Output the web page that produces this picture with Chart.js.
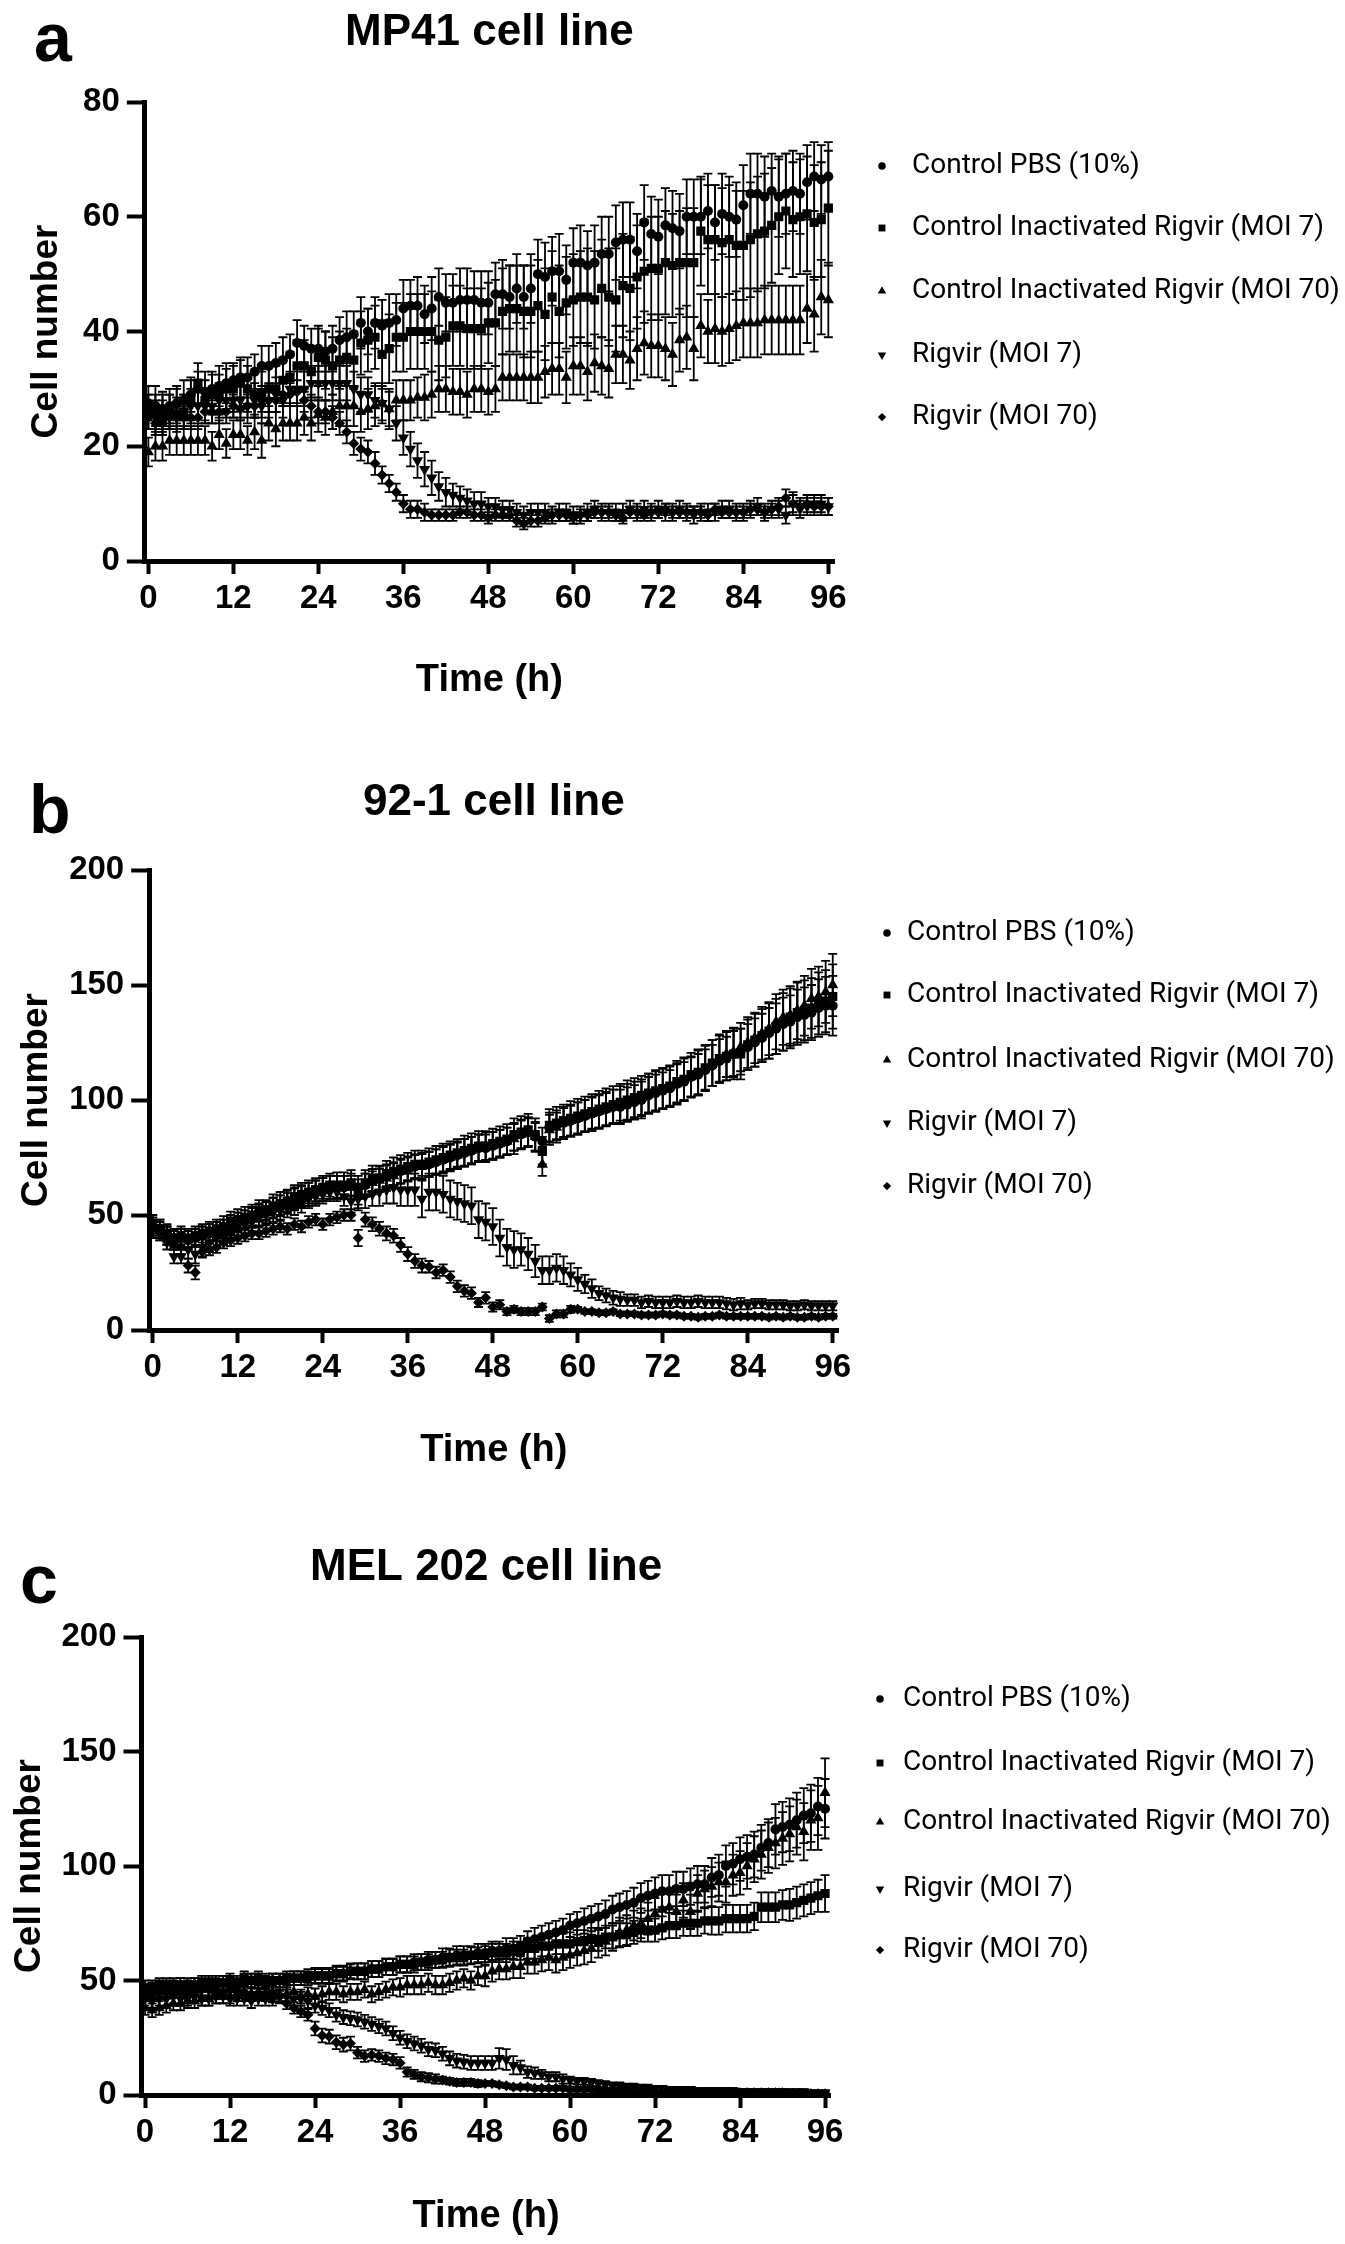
<!DOCTYPE html>
<html>
<head>
<meta charset="utf-8">
<script src="https://cdn.jsdelivr.net/npm/chart.js@4.4.1/dist/chart.umd.min.js"></script>
<style>
  body { margin: 0; background: #fff; width: 1345px; height: 2244px; position: relative; overflow: hidden; }
  canvas { position: absolute; left: 0; }
</style>
</head>
<body>
<canvas id="mp41" style="top:0px"></canvas>
<canvas id="l921" style="top:768px"></canvas>
<canvas id="mel202" style="top:1534px"></canvas>
<script>
const HOURS = [0, 1, 2, 3, 4, 5, 6, 7, 8, 9, 10, 11, 12, 13, 14, 15, 16, 17, 18, 19, 20, 21, 22, 23,
    24, 25, 26, 27, 28, 29, 30, 31, 32, 33, 34, 35, 36, 37, 38, 39, 40, 41, 42, 43, 44, 45, 46, 47,
    48, 49, 50, 51, 52, 53, 54, 55, 56, 57, 58, 59, 60, 61, 62, 63, 64, 65, 66, 67, 68, 69, 70, 71,
    72, 73, 74, 75, 76, 77, 78, 79, 80, 81, 82, 83, 84, 85, 86, 87, 88, 89, 90, 91, 92, 93, 94, 95, 96];
const TIME_TICKS = [0, 12, 24, 36, 48, 60, 72, 84, 96];
const SERIES_LABELS = ["Control PBS (10%)", "Control Inactivated Rigvir (MOI 7)", "Control Inactivated Rigvir (MOI 70)", "Rigvir (MOI 7)", "Rigvir (MOI 70)"];

// ---- MP41 cell line (mean, SD) ----
const mp41_pbs = [27.5, 27, 26.5, 27, 27.5, 28, 29, 30, 29.5, 30, 30.5, 31,
    31.5, 32, 32, 33, 34, 34, 34.5, 35, 36, 38, 37.5, 37,
    37, 36.5, 37, 38.5, 39, 39.5, 41.5, 40, 41.5, 41, 41.5, 42,
    44, 44.5, 44.5, 43, 44, 46, 45, 45, 45.5, 45.5, 45.5, 45,
    45, 46.5, 46.5, 46, 47.5, 46, 47.5, 50, 49.5, 50.5, 50.5, 49,
    52, 52, 51.5, 52, 53.5, 53.5, 55.5, 56, 56, 54, 59, 57,
    56.5, 58.5, 58, 57.5, 60, 60, 60, 61, 59, 60.5, 60, 59.5,
    62, 64, 64, 63.5, 64.5, 63.5, 64, 64.5, 64, 66, 67, 66.5, 67];
const mp41_pbs_sd = [3, 3.5, 3, 3, 3, 3.5, 3, 3, 3.5, 3, 3.5, 3.5,
    3, 3.5, 3.5, 3, 3.5, 3.5, 3.5, 4, 3.5, 4, 3.5, 3.5,
    4, 3.5, 4, 4, 4.5, 4, 4.5, 4, 4.5, 4.5, 5, 4.5,
    5, 4.5, 5, 5, 5.5, 5, 5, 5, 5.5, 5.5, 5, 5.5,
    5.5, 5.5, 6, 5.5, 6, 5.5, 6, 6, 6, 6, 6.5, 6,
    6, 6.5, 6, 6.5, 6.5, 6.5, 6.5, 6.5, 6.5, 6.5, 6.5, 6.5,
    6.5, 6.5, 6.5, 6.5, 6.5, 6.5, 6.5, 6.5, 6.5, 7, 7, 6.5,
    7, 7, 7, 7, 6.5, 7, 7, 7, 7, 6.5, 6, 6, 6];
const mp41_inact7 = [26, 26, 25, 26, 25.5, 26, 28, 31, 28, 29, 29, 30,
    30, 31, 30, 29, 29, 30, 30, 31.5, 32, 34, 34, 33,
    35.5, 35, 34, 35, 35.5, 35, 38, 38.5, 39, 36, 37, 39,
    39, 40, 40, 40, 40, 38.5, 39, 41, 41, 40.5, 40.5, 40.5,
    41.5, 41.5, 43.5, 44, 44, 43.5, 43.5, 44.5, 43, 46, 43.5, 45,
    45.5, 46, 46, 45.5, 47.5, 46, 45.5, 48, 47.5, 49.5, 50.5, 51,
    51, 52, 51.5, 52, 52, 52, 57.5, 56, 56, 55.5, 56, 55,
    55, 56, 57, 57.5, 58.5, 60, 61, 59.5, 60, 60.5, 59, 59.5, 61.5];
const mp41_inact7_sd = [3, 3, 3, 3, 3, 3, 3.5, 3.5, 3.5, 3.5, 3.5, 3.5,
    4, 4, 4, 4, 4, 4, 4, 4, 4.5, 4.5, 4.5, 4.5,
    5, 5, 5, 5, 5, 5, 5.5, 5.5, 5.5, 6, 6, 6,
    6, 6.5, 6.5, 6.5, 7, 7, 7, 7, 7, 7, 7, 7,
    7, 7.5, 7.5, 7.5, 7.5, 8, 8, 8, 8, 8, 8, 8,
    8, 8, 8.5, 8.5, 8.5, 8.5, 9, 9, 9, 9, 9, 9,
    9, 9, 9, 9, 9.5, 9.5, 9.5, 9.5, 9.5, 9.5, 9.5, 9.5,
    9.5, 10, 10, 10, 10, 10, 10, 10, 10, 10, 10, 10, 10];
const mp41_inact70 = [19, 20, 20, 21, 21, 21, 21, 21, 21, 20, 22, 20.5,
    22, 22, 21, 22.5, 21, 24, 23, 24, 24, 24, 25, 24,
    25.5, 25, 26, 27, 27, 27, 26, 26.5, 27, 27.5, 26.5, 28,
    28, 28, 28.5, 28.5, 29, 30, 30, 29.5, 29.5, 29, 30, 30,
    29.5, 30, 32, 32, 32, 32, 32, 32, 33, 33.5, 33.5, 32,
    34, 34, 33, 34.5, 34, 33.5, 36, 36, 35, 37, 38, 37.5,
    37.5, 37, 36, 38.5, 39, 37, 41, 40, 40.5, 40, 40.5, 41,
    41.5, 41.5, 41.5, 42, 42, 42, 42, 42, 42, 44, 43, 46, 45.5];
const mp41_inact70_sd = [2.5, 2.5, 2.5, 2.5, 2.5, 2.5, 2.5, 2.5, 2.5, 2.5, 2.5, 2.5,
    2.5, 2.5, 2.5, 3, 3, 3, 3, 3, 3, 3, 3, 3,
    3, 3, 3, 3.5, 3.5, 3.5, 3.5, 3.5, 3.5, 3.5, 3.5, 3.5,
    3.5, 3.5, 3.5, 4, 4, 4, 4, 4, 4, 4, 4, 4,
    4, 4, 4, 4, 4, 4, 4.5, 4.5, 4.5, 4.5, 4.5, 4.5,
    5, 5, 5, 5, 5, 5, 5, 5, 5, 5.5, 5.5, 5.5,
    5.5, 5.5, 5.5, 5.5, 5.5, 5.5, 5.5, 5.5, 6, 6, 6, 6,
    6, 6, 6, 6, 6, 6, 6, 6, 6, 6, 6.5, 6.5, 6.5];
const mp41_rig7 = [26, 25, 26, 26, 27, 26, 27, 27, 27, 27, 28, 28,
    28, 28, 27, 28, 27, 28, 29, 28, 30, 30, 30, 31,
    31, 31, 31, 31, 31, 30, 29, 29, 28, 27.5, 26.5, 24,
    21.5, 19.5, 17.5, 16, 14.5, 13, 12, 11.5, 11, 10.5, 10, 10,
    9.5, 9.5, 9, 9, 8.5, 8, 8.5, 8.5, 8.5, 8, 8.5, 8.5,
    8, 8, 8.5, 9, 8.5, 8.5, 8.5, 8.5, 9, 8.5, 9, 8.5,
    9, 8.5, 8.5, 9, 8.5, 8, 8.5, 8.5, 8.5, 9, 9, 8.5,
    8.5, 9, 9.5, 8.5, 9, 9, 8, 10, 9, 9.5, 10, 10, 9.5];
const mp41_rig7_sd = [3, 3, 3, 3, 3, 3, 3, 3, 3, 3, 3, 3,
    3, 3, 3, 3, 3, 3, 3, 3, 3, 3, 3, 3,
    3, 3, 3, 3, 3, 3, 3, 3, 3, 3, 3, 3,
    3, 3, 3, 3, 3, 2.5, 2.5, 2, 2, 2, 2, 2,
    1.5, 1.5, 1.5, 1.5, 1.5, 1.5, 1.5, 1.5, 1.5, 1.5, 1.5, 1.5,
    1.5, 1.5, 1.5, 1.5, 1.5, 1.5, 1.5, 1.5, 1.5, 1.5, 1.5, 1.5,
    1.5, 1.5, 1.5, 1.5, 1.5, 1.5, 1.5, 1.5, 1.5, 1.5, 1.5, 1.5,
    1.5, 1.5, 1.5, 1.5, 1.5, 1.5, 1.5, 2, 1.5, 1.5, 1.5, 1.5, 1.5];
const mp41_rig70 = [25, 24, 24, 25, 25, 25, 25, 25, 26, 26, 26, 26,
    27, 26.5, 27, 27, 28, 28, 28, 29, 29, 29.5, 28, 27,
    26, 26, 25, 24, 22.5, 20.5, 19.5, 19, 17, 15, 13.5, 12,
    10, 9, 9, 8.5, 8, 8, 8, 8, 8.5, 8.5, 8, 8,
    7.5, 8, 8, 8, 7, 6.5, 7, 7, 7.5, 8, 8, 8,
    7.5, 8, 8, 8.5, 8.5, 8.5, 8, 7.5, 8.5, 8.5, 8, 8.5,
    8.5, 9, 8.5, 8.5, 8.5, 8.5, 8.5, 8, 9, 8.5, 8.5, 8.5,
    8.5, 9, 9, 8.5, 9, 9.5, 11, 10, 9.5, 10, 9.5, 9.5, 9.5];
const mp41_rig70_sd = [2, 2, 2, 2, 2, 2, 2, 2, 2, 2, 2, 2,
    2, 2, 2, 2, 2, 2, 2, 2, 2, 2, 2, 2,
    2, 2, 2, 2, 2, 2, 2, 2, 2, 1.5, 1.5, 1.5,
    1.5, 1.5, 1.5, 1.5, 1, 1, 1, 1, 1, 1, 1, 1,
    1, 1, 1, 1, 1, 1, 1, 1, 1, 1, 1, 1,
    1, 1, 1, 1, 1, 1, 1, 1, 1, 1, 1, 1,
    1, 1, 1, 1, 1, 1, 1, 1, 1, 1, 1, 1,
    1, 1, 1, 1, 1, 1.5, 1.5, 1.5, 1.5, 1.5, 1.5, 1.5, 1.5];

// ---- 92-1 cell line ----
const l921_pbs = [45, 44, 42, 40, 40, 39, 40, 41, 42, 43, 44, 46,
    47, 48, 49, 51, 52, 53, 54, 56, 57, 58, 59, 60,
    61, 62, 62, 62, 63, 62, 63, 65, 66, 67, 68, 69,
    70, 71, 72, 72, 73, 74, 75, 76, 77, 78, 79, 79,
    80, 81, 82, 84, 85, 86, 84, 82, 88, 89, 90, 91,
    92, 93, 94, 95, 96, 97, 97, 98, 99, 100, 102, 103,
    104, 105, 107, 108, 110, 111, 113, 115, 117, 118, 120, 121,
    123, 125, 127, 129, 131, 133, 134, 136, 137, 138, 140, 141, 141];
const l921_pbs_sd = [4, 4, 4, 3.5, 4, 4, 4, 4, 4, 4, 4, 4,
    4, 4, 4, 4, 4, 4.5, 4.5, 4.5, 4.5, 4.5, 5, 5,
    5, 5, 5, 5, 5, 5, 5, 5, 5, 5, 5, 5,
    5, 5, 5, 5.5, 5.5, 5.5, 5.5, 5.5, 6, 6, 6, 6,
    6, 6, 6, 6, 6, 6, 6, 6, 6.5, 6.5, 6.5, 6.5,
    7, 7, 7, 7, 7, 7.5, 7.5, 7.5, 7.5, 8, 8, 8,
    8, 8, 8.5, 8.5, 8.5, 9, 9, 9, 9.5, 9.5, 10, 10,
    10, 10.5, 10.5, 11, 11, 11.5, 11.5, 12, 12, 12, 12.5, 12.5, 13];
const l921_inact7 = [46, 44, 41, 40, 41, 40, 41, 42, 43, 44, 45, 47,
    48, 49, 50, 52, 52, 54, 55, 56, 58, 59, 60, 61,
    62, 63, 63, 63, 64, 60, 64, 66, 66, 68, 69, 70,
    71, 72, 72, 73, 74, 75, 76, 77, 78, 79, 80, 80,
    81, 82, 83, 85, 86, 87, 85, 78, 89, 90, 91, 92,
    93, 94, 95, 96, 97, 98, 99, 100, 101, 102, 103, 104,
    105, 106, 108, 109, 111, 112, 114, 116, 118, 119, 120, 120,
    124, 126, 128, 130, 132, 134, 136, 138, 139, 140, 142, 143, 145];
const l921_inact7_sd = [4, 4, 4, 4, 4, 4, 4, 4, 4, 4, 4.5, 4.5,
    4.5, 4.5, 4.5, 4.5, 4.5, 5, 5, 5, 5, 5, 5, 5,
    5, 5, 5.5, 5.5, 5.5, 5.5, 5.5, 5.5, 5.5, 5.5, 6, 6,
    6, 6, 6, 6, 6, 6, 6, 6, 6.5, 6.5, 6.5, 6.5,
    6.5, 6.5, 6.5, 7, 7, 7, 7, 6, 7, 7, 7, 7.5,
    7.5, 7.5, 7.5, 8, 8, 8, 8, 8.5, 8.5, 8.5, 8.5, 9,
    9, 9, 9, 9.5, 9.5, 10, 10, 10, 10.5, 10.5, 11, 11,
    11, 11.5, 11.5, 12, 12, 12.5, 12.5, 13, 13, 13, 13.5, 13.5, 14];
const l921_inact70 = [44, 43, 41, 39, 40, 39, 40, 41, 42, 43, 44, 45,
    47, 48, 49, 50, 51, 53, 54, 55, 57, 58, 59, 60,
    61, 62, 62, 62, 62, 58, 63, 64, 65, 66, 67, 69,
    70, 71, 71, 72, 73, 74, 75, 76, 77, 78, 79, 80,
    80, 81, 82, 83, 85, 86, 84, 72, 87, 88, 90, 91,
    92, 93, 94, 95, 96, 97, 98, 99, 100, 101, 103, 104,
    105, 106, 107, 109, 110, 112, 114, 116, 118, 120, 121, 123,
    125, 127, 129, 131, 134, 136, 137, 139, 141, 144, 145, 147, 150];
const l921_inact70_sd = [4, 4, 4, 4, 4, 4, 4, 4, 4, 4, 4, 4,
    4, 4, 4.5, 4.5, 4.5, 4.5, 4.5, 4.5, 5, 5, 5, 5,
    5, 5, 5, 5, 5, 5, 5, 5, 5, 5.5, 5.5, 5.5,
    5.5, 5.5, 5.5, 5.5, 5.5, 6, 6, 6, 6, 6, 6, 6,
    6, 6, 6, 6.5, 6.5, 6.5, 6.5, 5, 6.5, 6.5, 7, 7,
    7, 7, 7.5, 7.5, 7.5, 7.5, 8, 8, 8, 8, 8.5, 8.5,
    8.5, 8.5, 9, 9, 9, 9.5, 9.5, 10, 10, 10, 10.5, 10.5,
    11, 11, 11.5, 11.5, 12, 12, 12.5, 12.5, 13, 13, 13, 13.5, 13.5];
const l921_rig7 = [44, 42, 38, 32, 32, 35, 33, 36, 38, 40, 41, 43,
    45, 46, 47, 49, 50, 51, 52, 53, 54, 55, 57, 58,
    59, 60, 60, 58, 56, 57, 58, 59, 60, 61, 62, 61,
    61, 61, 57, 60, 60, 59, 57, 56, 55, 54, 48, 47,
    45, 40, 36, 35, 35, 33, 30, 26, 26, 27, 26, 24,
    22, 20, 18, 16, 15, 14, 13.5, 13, 13, 12, 12.5, 12,
    12, 12, 12.5, 12, 12, 12.5, 12, 12, 12, 11.5, 11, 11.5,
    11, 11.5, 11.5, 11, 11, 11, 10.5, 10.5, 11, 10.5, 10.5, 10.5, 10.5];
const l921_rig7_sd = [3, 3, 3, 3, 3, 4, 4, 4, 4, 4, 4, 4,
    4, 4, 4, 4, 4, 4, 4, 4, 4, 4, 4, 4,
    4, 4, 4, 4, 5, 5, 5, 5, 6, 6, 7, 7,
    7, 7, 8, 8, 8, 8, 8, 8, 8, 8, 8, 8,
    8, 8, 8, 8, 7, 7, 7, 6, 6, 6, 6, 5,
    5, 4, 4, 3, 3, 3, 3, 2.5, 2.5, 2.5, 2.5, 2.5,
    2.5, 2.5, 2.5, 2.5, 2.5, 2.5, 2.5, 2.5, 2.5, 2.5, 2.5, 2.5,
    2, 2, 2, 2, 2, 2, 2, 2, 2, 2, 2, 2, 2];
const l921_rig70 = [45, 44, 42, 38, 36, 28, 25, 34, 35, 36, 38, 39,
    40, 41, 42, 42, 43, 44, 45, 44, 46, 45, 47, 48,
    46, 48, 49, 50, 50, 40, 48, 46, 44, 42, 41, 37,
    33, 30, 28, 27.5, 25, 26, 23, 19, 17, 16, 12, 14,
    10, 11, 8, 9, 8, 8, 8, 10, 5, 7, 7, 9,
    9, 8, 8, 7.5, 7.5, 8, 7, 7, 7, 6.5, 6.5, 6.5,
    7, 6.5, 6.5, 6, 6, 5.5, 6, 6, 6.5, 6, 6, 6,
    6, 6, 6, 5.5, 6, 5.5, 6, 5.5, 5.5, 6, 5.5, 6, 6];
const l921_rig70_sd = [3, 3, 3, 3, 3, 3, 3, 2.5, 2.5, 2.5, 2.5, 2.5,
    2.5, 2.5, 2.5, 2.5, 2.5, 2.5, 2.5, 2.5, 2.5, 2.5, 2.5, 2.5,
    2.5, 2.5, 2.5, 2.5, 2.5, 3.5, 3, 3, 3, 3, 3, 3,
    3, 3, 3, 2.5, 2.5, 2.5, 2.5, 2.5, 2.5, 2.5, 2, 2.5,
    2, 2, 1.5, 1.5, 1.5, 1.5, 1.5, 1.5, 1.5, 1.5, 1.5, 1.5,
    1, 1, 1, 1, 1, 1, 1, 1, 1, 1, 1, 1,
    1, 1, 1, 1, 1, 1, 1, 1, 1, 1, 1, 1,
    1, 1, 1, 1, 1, 1, 1, 1, 1, 1, 1, 1, 1];

// ---- MEL 202 cell line ----
const mel202_pbs = [44, 46, 47, 47, 47, 48, 47, 48, 48, 48, 48, 49,
    49, 48, 50, 50, 50, 49, 50, 50, 50, 51, 51, 51,
    52, 52, 52, 53, 53, 54, 54, 54, 55, 55, 56, 56,
    57, 57, 58, 58, 59, 59, 60, 60, 61, 61, 61, 62,
    62, 63, 63, 64, 64, 65, 67, 68, 69, 70, 71, 72,
    74, 75, 76, 77, 78, 79, 81, 82, 83, 84, 86, 87,
    88, 89, 89, 90, 90, 91, 92, 92, 95, 96, 100, 101,
    103, 104, 105, 108, 110, 116, 117, 118, 120, 122, 123, 126, 125];
const mel202_pbs_sd = [3, 3, 3, 3, 3, 3, 3, 3, 3, 3, 3, 3,
    3, 3, 3, 3, 3, 3, 3, 3, 3, 3, 3, 3,
    3, 3, 3, 3, 3, 3, 3.5, 3.5, 3.5, 3.5, 3.5, 3.5,
    3.5, 3.5, 3.5, 3.5, 3.5, 3.5, 4, 4, 4, 4, 4, 4,
    4, 4, 4, 4.5, 4.5, 4.5, 4.5, 5, 5, 5, 5, 5,
    5, 5, 5.5, 5.5, 5.5, 6, 6, 6, 6, 6.5, 6.5, 6.5,
    7, 7, 7, 7.5, 7.5, 8, 8, 8, 8.5, 9, 9, 9,
    9.5, 9.5, 10, 10, 10.5, 11, 11, 11.5, 12, 12, 12.5, 12.5, 13];
const mel202_inact7 = [47, 47, 48, 48, 48, 48, 48, 48, 49, 49, 49, 49,
    50, 49, 51, 50, 51, 50, 50, 50, 51, 51, 51, 52,
    52, 52, 52, 53, 53, 54, 54, 54, 55, 55, 56, 56,
    57, 57, 57, 58, 58, 59, 59, 60, 60, 60, 61, 61,
    61, 62, 62, 62, 63, 63, 64, 64, 65, 65, 66, 66,
    66, 67, 67, 68, 68, 69, 69, 70, 70, 71, 72, 72,
    72, 73, 74, 74, 75, 75, 75, 76, 76, 76, 77, 77,
    77, 77, 78, 82, 82, 82, 83, 83, 84, 85, 86, 87, 88];
const mel202_inact7_sd = [3, 3, 3, 3, 3, 3, 3, 3, 3, 3, 3, 3,
    3, 3, 3, 3, 3, 3, 3, 3, 3, 3, 3, 3,
    3.5, 3.5, 3.5, 3.5, 3.5, 3.5, 3.5, 3.5, 3.5, 3.5, 3.5, 3.5,
    3.5, 3.5, 3.5, 3.5, 3.5, 3.5, 3.5, 3.5, 3.5, 3.5, 3.5, 3.5,
    4, 4, 4, 4, 4, 4, 4.5, 4.5, 4.5, 4.5, 4.5, 4.5,
    5, 5, 5, 5, 5, 5, 5, 5, 5, 5, 5, 5,
    5, 5, 5.5, 5.5, 5.5, 5.5, 5.5, 5.5, 6, 6, 6, 6,
    6, 6, 6, 6.5, 6.5, 6.5, 6.5, 7, 7, 7, 7, 7, 8];
const mel202_inact70 = [38, 37, 38, 39, 40, 40, 41, 41, 42, 42, 43, 43,
    43, 44, 44, 44, 45, 44, 45, 44, 44, 45, 43, 44,
    43, 44, 45, 45, 44, 45, 45, 46, 44, 45, 46, 47,
    47, 48, 48, 48, 49, 48, 48, 49, 50, 51, 50, 52,
    52, 54, 55, 55, 56, 56, 58, 58, 59, 60, 59, 60,
    61, 62, 63, 64, 66, 67, 69, 71, 72, 74, 75, 77,
    79, 81, 82, 80, 85, 80, 88, 90, 91, 93, 93, 96,
    97, 100, 103, 105, 108, 110, 112, 114, 117, 115, 120, 121, 132];
const mel202_inact70_sd = [3, 3, 3, 3, 3, 3, 3, 3, 3, 3, 3, 3,
    3, 3, 3, 3, 3, 3, 3, 3, 3, 3, 3, 3,
    3.5, 3.5, 3.5, 3.5, 3.5, 3.5, 3.5, 3.5, 3.5, 3.5, 3.5, 3.5,
    4, 4, 4, 4, 4, 4, 4, 4, 4, 4, 4, 4,
    4.5, 4.5, 4.5, 4.5, 5, 5, 5, 5, 5, 5.5, 5.5, 5.5,
    5.5, 5.5, 6, 6, 6, 6, 6, 6.5, 6.5, 6.5, 6.5, 7,
    7, 7, 7, 7.5, 7.5, 7.5, 8, 8, 8.5, 8.5, 9, 9,
    9.5, 10, 10, 10.5, 11, 11, 11.5, 12, 12, 12.5, 13, 14, 15];
const mel202_rig7 = [42, 41, 42, 42, 43, 42, 42, 43, 42, 42, 43, 43,
    42, 42, 42, 41, 42, 42, 42, 43, 43, 42, 42, 41,
    39, 38, 37, 35, 34, 33.5, 33, 32, 31, 30, 29, 27,
    25, 23.5, 22.5, 21.5, 20, 19.5, 18, 16, 15, 14.5, 14, 14,
    14, 14, 16, 15.5, 13, 12, 10, 9.5, 9, 8, 8, 7,
    6.5, 6, 6, 5.5, 5, 4.5, 4, 4, 3.5, 3.5, 3, 3,
    3, 3, 2.5, 2.5, 2.5, 2.5, 2, 2, 2, 2, 2, 2,
    1.5, 1.5, 1.5, 1.5, 1.5, 1.5, 1.5, 1.5, 1.5, 1.5, 1, 1, 1];
const mel202_rig7_sd = [3, 3, 3, 3, 3, 3, 3, 3, 3, 3, 3, 3,
    3, 3, 3, 3, 3, 3, 3, 3, 3, 3, 3, 3,
    3, 3, 3, 3, 3, 3, 3, 3, 3, 3, 3, 3,
    3, 3, 3, 3, 3, 3, 3, 3, 3, 3, 3, 3,
    3, 3, 4.5, 4.5, 4, 3, 2.5, 2.5, 2, 2, 2, 2,
    1.5, 1.5, 1.5, 1.5, 1.5, 1.5, 1.5, 1.5, 1.5, 1.5, 1.5, 1.5,
    1, 1, 1, 1, 1, 1, 1, 1, 1, 1, 1, 1,
    1, 1, 1, 1, 1, 1, 1, 1, 1, 1, 1, 1, 1];
const mel202_rig70 = [44, 44, 45, 45, 45, 45, 46, 46, 46, 46, 45, 45,
    46, 45, 45, 44, 44, 44, 43, 43, 40, 38, 36.5, 35,
    29, 26, 25.5, 23, 22, 22.5, 18.5, 17, 17.5, 17, 16, 15.5,
    14, 10, 9, 8, 7.5, 7, 6.5, 6, 5.5, 5.5, 5.5, 5,
    5, 5, 4.5, 4, 3.5, 3.5, 3.5, 3, 3, 3, 3, 3,
    2.5, 2.5, 2.5, 2.5, 2, 2, 2, 2, 2, 1.5, 1.5, 1.5,
    1.5, 1.5, 1.5, 1.5, 1, 1, 1, 1, 1, 1, 1, 1,
    1, 1, 1, 1, 1, 1, 1, 0.5, 0.5, 0.5, 0.5, 0.5, 0.5];
const mel202_rig70_sd = [2.5, 2.5, 2.5, 2.5, 2.5, 2.5, 2.5, 2.5, 2.5, 2.5, 2.5, 2.5,
    2.5, 2.5, 2.5, 2.5, 2.5, 2.5, 2.5, 2.5, 2.5, 2.5, 2.5, 2.5,
    3, 3, 3, 3, 3, 3, 2.5, 2.5, 2.5, 2.5, 2.5, 2.5,
    2.5, 2, 2, 2, 2, 2, 1.5, 1.5, 1.5, 1.5, 1.5, 1.5,
    1, 1, 1, 1, 1, 1, 1, 1, 1, 1, 1, 1,
    1, 1, 1, 1, 1, 1, 1, 1, 1, 1, 1, 1,
    0.5, 0.5, 0.5, 0.5, 0.5, 0.5, 0.5, 0.5, 0.5, 0.5, 0.5, 0.5,
    0.5, 0.5, 0.5, 0.5, 0.5, 0.5, 0.5, 0.5, 0.5, 0.5, 0.5, 0.5, 0.5];

const MARKERS = [
    { pointStyle: "circle", radius: 5, rotation: 0 },
    { pointStyle: "rect", radius: 6.5, rotation: 0 },
    { pointStyle: "triangle", radius: 6.5, rotation: 0 },
    { pointStyle: "triangle", radius: 6.5, rotation: 180 },
    { pointStyle: "rectRot", radius: 5.5, rotation: 0 }
];
const BOLD_FONT = "'Liberation Sans', Arial, sans-serif";

const errorBars = {
    id: "errorBars",
    beforeDatasetsDraw(chart) {
        const { ctx, scales: { x, y } } = chart;
        ctx.save();
        ctx.strokeStyle = "#000";
        ctx.lineWidth = 1.8;
        chart.data.datasets.forEach(ds => {
            ds.data.forEach((p, i) => {
                const e = ds.sd[i];
                const px = x.getPixelForValue(p.x);
                const top = y.getPixelForValue(p.y + e);
                const bot = y.getPixelForValue(Math.max(p.y - e, 0));
                ctx.beginPath();
                ctx.moveTo(px, top); ctx.lineTo(px, bot);
                ctx.moveTo(px - 4.5, top); ctx.lineTo(px + 4.5, top);
                ctx.moveTo(px - 4.5, bot); ctx.lineTo(px + 4.5, bot);
                ctx.stroke();
            });
        });
        ctx.restore();
    }
};

// panel letter, title and the legend on the right
const panelText = {
    id: "panelText",
    afterDraw(chart, args, opts) {
        const { ctx, chartArea } = chart;
        ctx.save();
        ctx.fillStyle = "#000";
        ctx.textBaseline = "alphabetic";
        ctx.textAlign = "left";
        ctx.font = "bold 68px " + BOLD_FONT;
        ctx.fillText(opts.letter, opts.letterX, opts.letterY);
        ctx.textAlign = "center";
        ctx.font = "bold 44px " + BOLD_FONT;
        ctx.fillText(opts.title, (chartArea.left + chartArea.right) / 2, opts.titleY);

        ctx.textAlign = "left";
        ctx.textBaseline = "middle";
        ctx.font = "28px Roboto, 'Open Sans', sans-serif";
        chart.data.datasets.forEach((ds, i) => {
            const yy = opts.legendY[i];
            const m = MARKERS[i];
            ctx.fillStyle = "#000";
            Chart.helpers.drawPoint(ctx, { pointStyle: m.pointStyle, radius: m.radius * 0.75, rotation: m.rotation, borderWidth: 0 }, opts.markerX, yy);
            ctx.fillText(ds.label, opts.textX, yy);
        });
        ctx.restore();
    }
};

function makePanel(cfg) {
    const canvas = document.getElementById(cfg.id);
    canvas.width = 1345;
    canvas.height = cfg.height;
    const datasets = cfg.series.map((s, i) => ({
        label: SERIES_LABELS[i],
        data: HOURS.map((h, k) => ({ x: h, y: s[0][k] })),
        sd: s[1],
        showLine: false,
        pointStyle: MARKERS[i].pointStyle,
        pointRadius: MARKERS[i].radius,
        pointRotation: MARKERS[i].rotation,
        pointBackgroundColor: "#000",
        pointBorderWidth: 0,
        pointHoverRadius: MARKERS[i].radius
    }));

    new Chart(canvas, {
        type: "scatter",
        data: { datasets },
        options: {
            responsive: false,
            animation: false,
            events: [],
            layout: { padding: { left: 0, top: cfg.top, right: 1345 - cfg.right, bottom: 0 } },
            scales: {
                x: {
                    type: "linear",
                    min: -0.5,
                    max: 96.8,
                    afterBuildTicks: scale => { scale.ticks = TIME_TICKS.map(v => ({ value: v })); },
                    afterFit: scale => { scale.height = cfg.height - cfg.bottom; },
                    border: { display: true, color: "#000", width: 5 },
                    grid: { display: true, drawOnChartArea: false, drawTicks: true, tickLength: 13, tickWidth: 4, tickColor: "#000" },
                    ticks: { autoSkip: false, maxRotation: 0, padding: 5, color: "#000", font: { family: BOLD_FONT, size: 33, weight: "bold" } },
                    title: { display: true, text: "Time (h)", color: "#000", font: { family: BOLD_FONT, size: 38, weight: "bold" }, padding: { top: 0, bottom: cfg.xTitlePad } }
                },
                y: {
                    min: 0,
                    max: cfg.yMax,
                    afterFit: scale => { scale.width = cfg.left; },
                    border: { display: true, color: "#000", width: 5 },
                    grid: { display: true, drawOnChartArea: false, drawTicks: true, tickLength: 18, tickWidth: 4, tickColor: "#000" },
                    ticks: { stepSize: cfg.yStep, padding: 7, color: "#000", font: { family: BOLD_FONT, size: 33, weight: "bold" } },
                    title: { display: true, text: "Cell number", color: "#000", font: { family: BOLD_FONT, size: 37, weight: "bold" }, padding: { top: cfg.yTitlePad, bottom: 0 } }
                }
            },
            plugins: {
                legend: { display: false },
                tooltip: { enabled: false },
                panelText: cfg.text
            }
        },
        plugins: [errorBars, panelText]
    });
}

makePanel({
    id: "mp41", height: 768, left: 144.8, right: 834, top: 102, bottom: 561, yMax: 80, yStep: 20,
    xTitlePad: 65, yTitlePad: 25,
    series: [[mp41_pbs, mp41_pbs_sd], [mp41_inact7, mp41_inact7_sd], [mp41_inact70, mp41_inact70_sd], [mp41_rig7, mp41_rig7_sd], [mp41_rig70, mp41_rig70_sd]],
    text: { letter: "a", letterX: 34, letterY: 61, title: "MP41 cell line", titleY: 45, markerX: 882, textX: 912, legendY: [166, 228, 291, 355, 417] }
});
makePanel({
    id: "l921", height: 766, left: 149.2, right: 838.4, top: 102, bottom: 562, yMax: 200, yStep: 50,
    xTitlePad: 61, yTitlePad: 15,
    series: [[l921_pbs, l921_pbs_sd], [l921_inact7, l921_inact7_sd], [l921_inact70, l921_inact70_sd], [l921_rig7, l921_rig7_sd], [l921_rig70, l921_rig70_sd]],
    text: { letter: "b", letterX: 29, letterY: 65, title: "92-1 cell line", titleY: 47, markerX: 887, textX: 907, legendY: [165, 227, 292, 355, 418] }
});
makePanel({
    id: "mel202", height: 710, left: 141.5, right: 830.7, top: 103, bottom: 561, yMax: 200, yStep: 50,
    xTitlePad: 5, yTitlePad: 8,
    series: [[mel202_pbs, mel202_pbs_sd], [mel202_inact7, mel202_inact7_sd], [mel202_inact70, mel202_inact70_sd], [mel202_rig7, mel202_rig7_sd], [mel202_rig70, mel202_rig70_sd]],
    text: { letter: "c", letterX: 20, letterY: 69, title: "MEL 202 cell line", titleY: 46, markerX: 880, textX: 903, legendY: [165, 229, 288, 355, 416] }
});
</script>
</body>
</html>
